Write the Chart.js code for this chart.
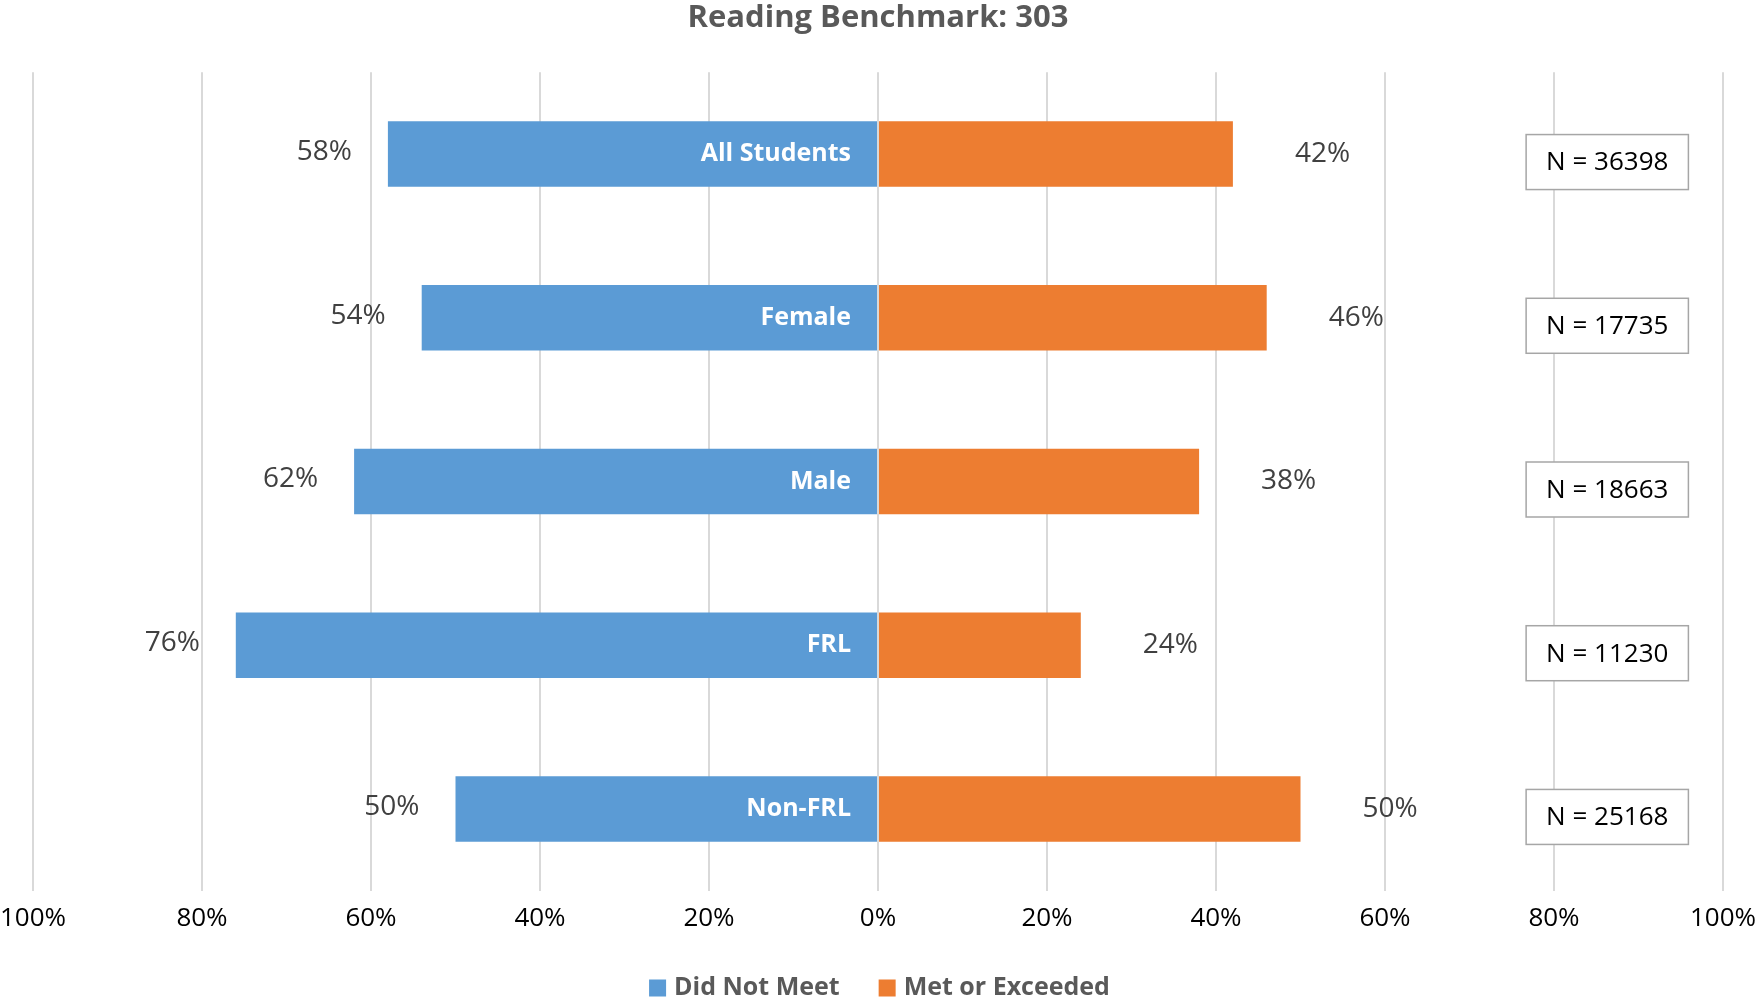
<!DOCTYPE html>
<html lang="en">
<head>
  <meta charset="UTF-8">
  <title>Reading Benchmark: 303</title>
  <script src="https://cdn.jsdelivr.net/npm/chart.js"></script>
  <style>
    html, body {
      margin: 0;
      padding: 0;
      background-color: #fff;
    }
    #chart-container {
      width: 1759px;
      height: 1004px;
    }
  </style>
</head>
<body>
  <div id="chart-container">
    <canvas id="myChart"></canvas>
  </div>

  <script>
    // Values
    const categories = ['All Students', 'Female', 'Male', 'FRL', 'Non-FRL'];
    const didNotMeet = [58, 54, 62, 76, 50];
    const metOrExceeded = [42, 46, 38, 24, 50];
    const sampleSizes = [36398, 17735, 18663, 11230, 25168];
    const seriesNames = ['Did Not Meet', 'Met or Exceeded'];

    const BLUE = '#5B9BD5';
    const ORANGE = '#ED7D31';
    const FONT = "'Open Sans', 'Noto Sans', sans-serif";

    // Percent labels beside bars, group names inside the blue bars, N boxes on the right
    const barLabels = {
      id: 'barLabels',
      afterDatasetsDraw(chart) {
        const ctx = chart.ctx;
        const xScale = chart.scales.x;
        const zeroX = xScale.getPixelForValue(0);
        const blueBars = chart.getDatasetMeta(0).data;
        const orangeBars = chart.getDatasetMeta(1).data;
        ctx.save();
        ctx.textBaseline = 'middle';

        blueBars.forEach((bar, i) => {
          // percent left of blue bar
          ctx.font = '28px ' + FONT;
          ctx.fillStyle = '#404040';
          ctx.textAlign = 'right';
          ctx.fillText(didNotMeet[i] + '%', bar.x - 36, bar.y - 2);

          // category name inside the blue bar
          ctx.font = 'bold 25px ' + FONT;
          ctx.fillStyle = '#ffffff';
          ctx.fillText(categories[i], zeroX - 27, bar.y);
        });

        orangeBars.forEach((bar, i) => {
          ctx.font = '28px ' + FONT;
          ctx.fillStyle = '#404040';
          ctx.textAlign = 'left';
          ctx.fillText(metOrExceeded[i] + '%', bar.x + 62, bar.y);

          // N = ... box
          const text = 'N = ' + sampleSizes[i];
          ctx.font = '26px ' + FONT;
          const boxLeft = xScale.getPixelForValue(76.7);
          const boxW = ctx.measureText(text).width + 40;
          const boxH = 55;
          const boxTop = bar.y + 8 - boxH / 2;
          ctx.fillStyle = '#ffffff';
          ctx.fillRect(boxLeft, boxTop, boxW, boxH);
          ctx.strokeStyle = '#a6a6a6';
          ctx.lineWidth = 1.5;
          ctx.strokeRect(boxLeft, boxTop, boxW, boxH);
          ctx.fillStyle = '#000000';
          ctx.fillText(text, boxLeft + 20, bar.y + 9);
        });

        ctx.restore();
      }
    };

    // Legend drawn by hand so it sits close to the bottom edge
    const bottomLegend = {
      id: 'bottomLegend',
      afterDraw(chart) {
        const ctx = chart.ctx;
        const colors = [BLUE, ORANGE];
        const box = 17, gap = 8, itemGap = 39;
        const y = chart.height - 16;
        ctx.save();
        ctx.font = 'bold 25px ' + FONT;
        const widths = seriesNames.map(n => box + gap + ctx.measureText(n).width);
        const total = widths.reduce((a, b) => a + b, 0) + itemGap * (widths.length - 1);
        let x = chart.width / 2 - total / 2;
        ctx.textBaseline = 'middle';
        ctx.textAlign = 'left';
        seriesNames.forEach((name, i) => {
          ctx.fillStyle = colors[i];
          ctx.fillRect(x, y - box / 2, box, box);
          ctx.fillStyle = '#595959';
          ctx.fillText(name, x + box + gap, y);
          x += widths[i] + itemGap;
        });
        ctx.restore();
      }
    };

    const ctx = document.getElementById('myChart').getContext('2d');
    const chart = new Chart(ctx, {
      type: 'bar',
      data: {
        labels: categories,
        datasets: [
          {
            label: seriesNames[0],
            data: didNotMeet.map(v => -v),
            backgroundColor: BLUE,
            borderWidth: 0,
            barPercentage: 0.4,
            categoryPercentage: 1.0
          },
          {
            label: seriesNames[1],
            data: metOrExceeded,
            backgroundColor: ORANGE,
            borderWidth: 0,
            barPercentage: 0.4,
            categoryPercentage: 1.0
          }
        ]
      },
      options: {
        indexAxis: 'y',
        responsive: true,
        maintainAspectRatio: false,
        animation: false,
        layout: {
          padding: { top: 0, right: 36, bottom: 58, left: 33 }
        },
        plugins: {
          legend: { display: false },
          tooltip: { enabled: false },
          title: {
            display: true,
            text: 'Reading Benchmark: 303',
            color: '#595959',
            font: { family: FONT, size: 31, weight: 'bold' },
            padding: { top: 0, bottom: 35 }
          }
        },
        scales: {
          x: {
            stacked: true,
            min: -100,
            max: 100,
            border: { display: false },
            grid: {
              color: '#d9d9d9',
              lineWidth: 2,
              drawTicks: false
            },
            ticks: {
              stepSize: 20,
              padding: 12,
              color: '#000000',
              font: { family: FONT, size: 26 },
              callback: v => Math.abs(v) + '%'
            },
            afterFit: scale => {
              // let the edge tick labels hang into the layout padding
              scale.paddingLeft = 0;
              scale.paddingRight = 0;
            }
          },
          y: {
            stacked: true,
            display: false
          }
        }
      },
      plugins: [barLabels, bottomLegend]
    });
  </script>
</body>
</html>
